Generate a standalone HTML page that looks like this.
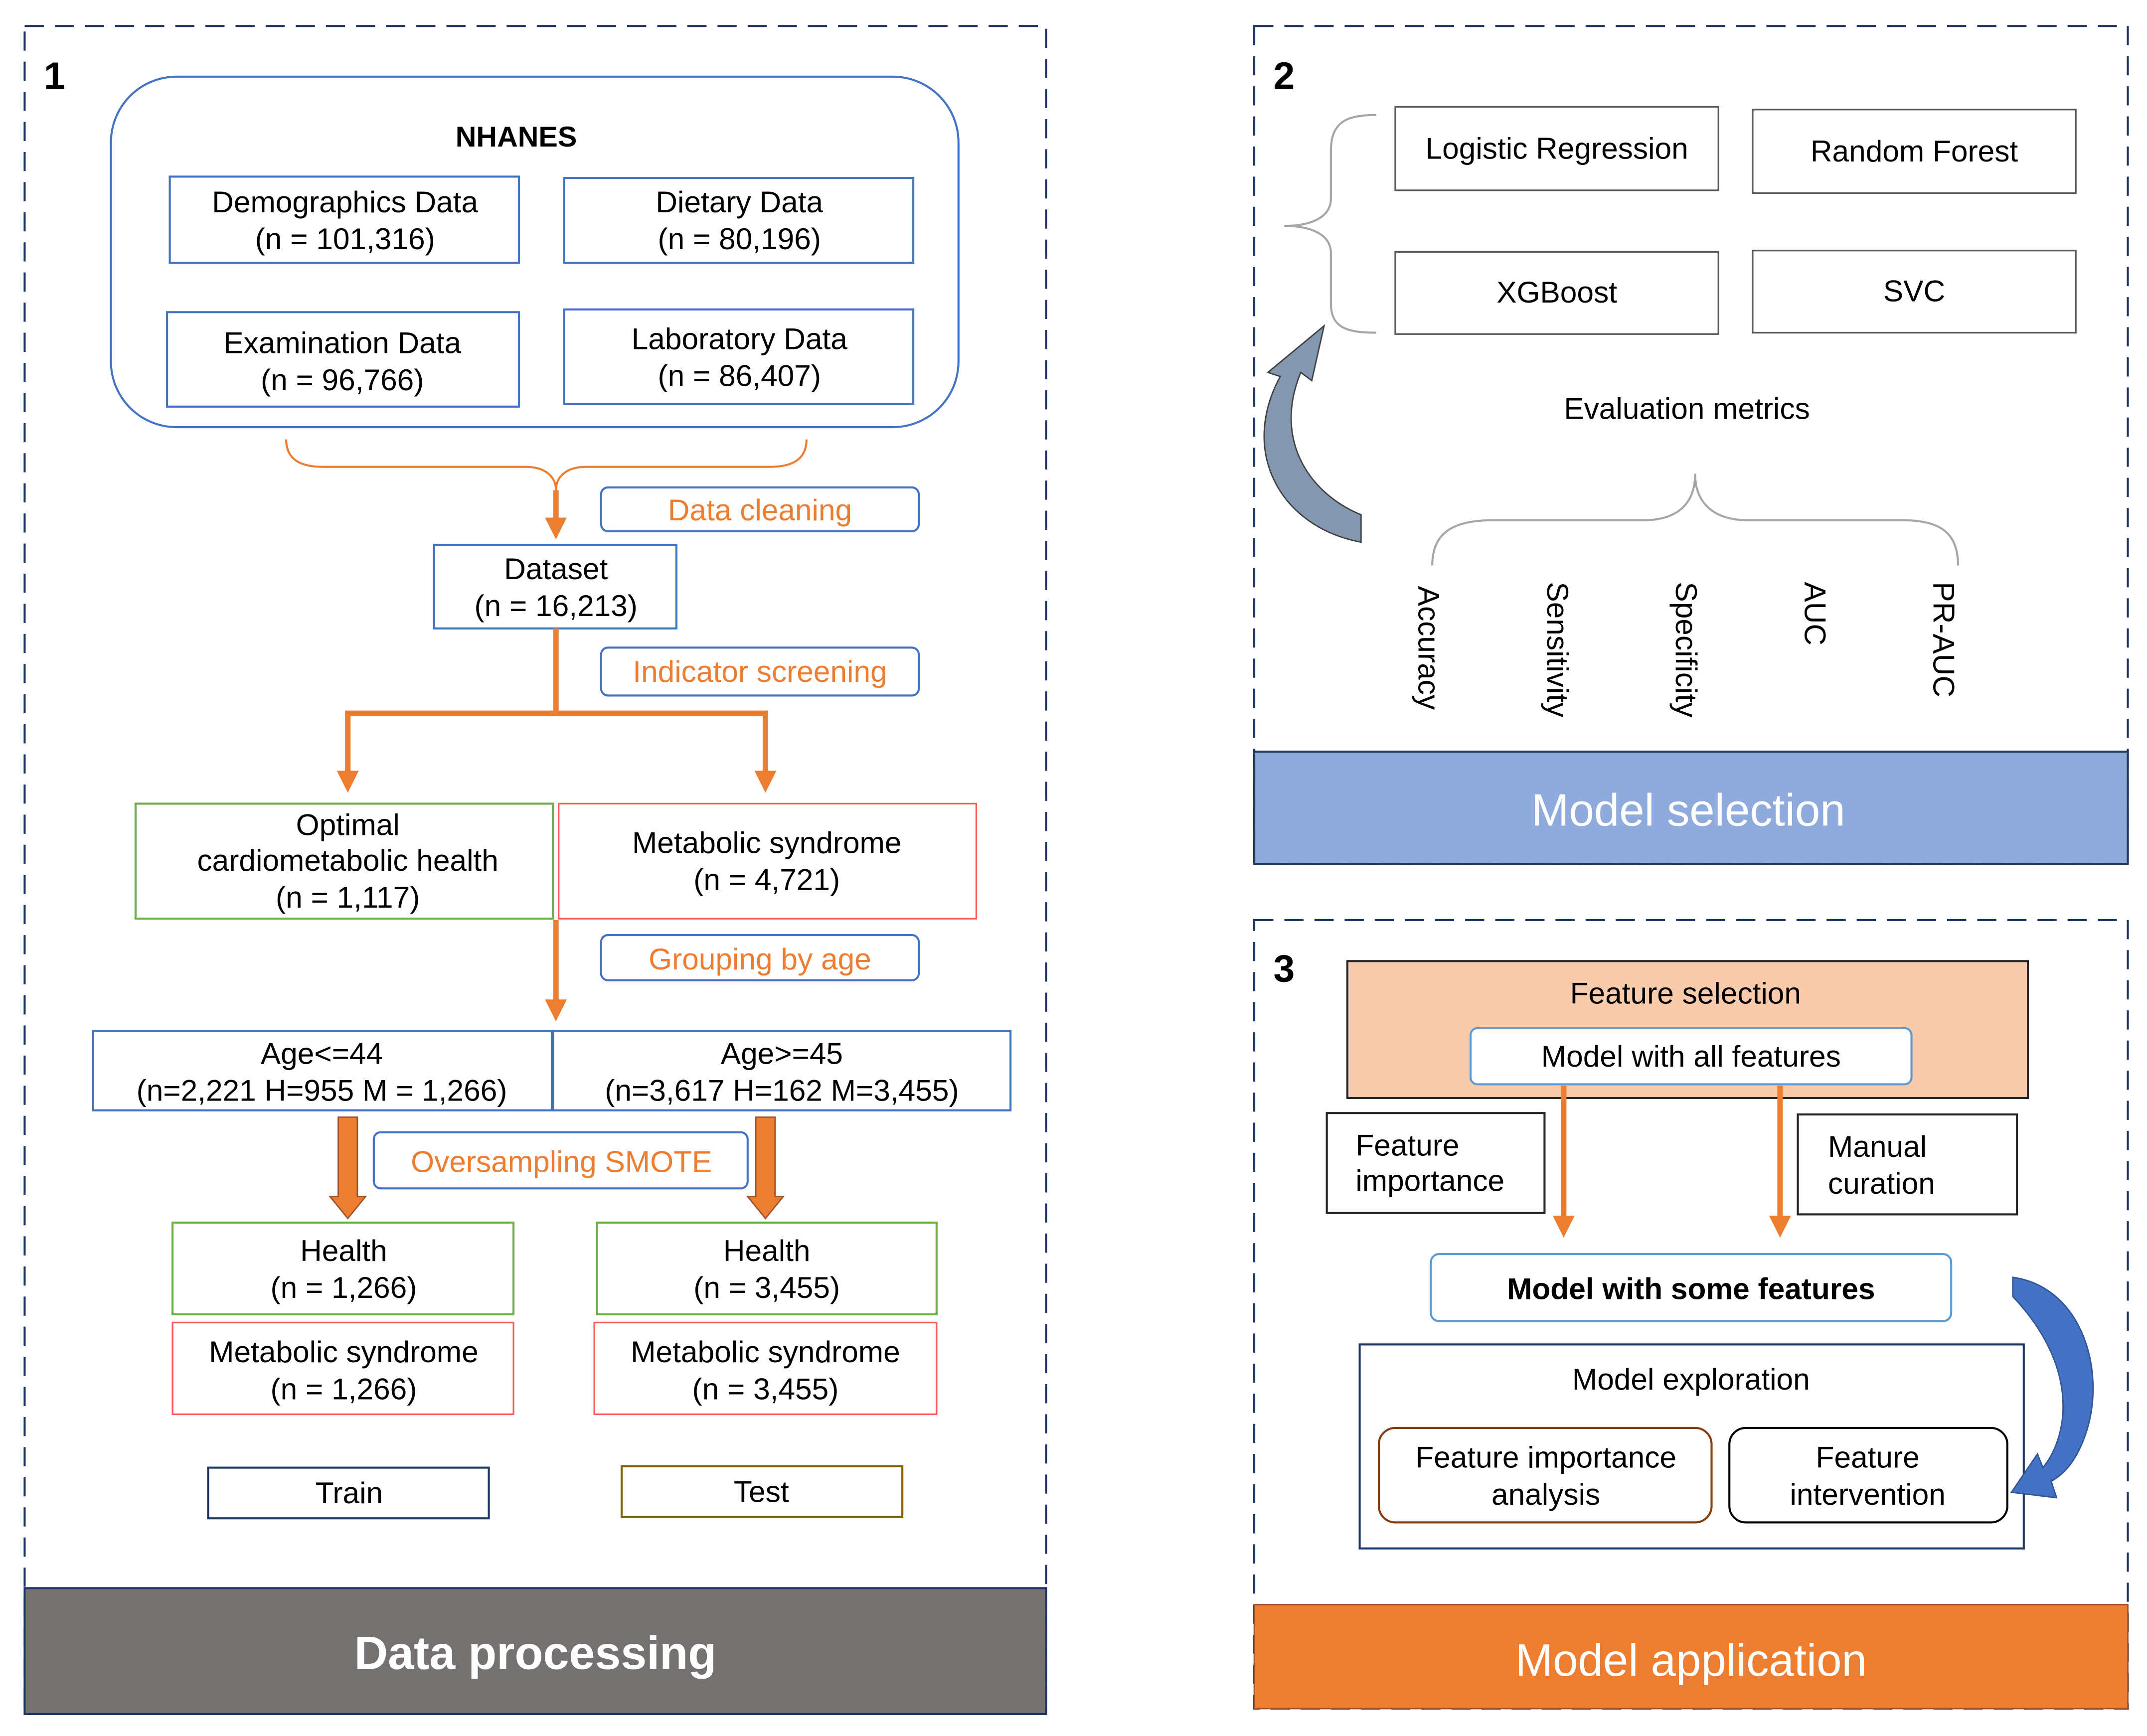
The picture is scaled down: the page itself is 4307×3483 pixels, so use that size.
<!DOCTYPE html>
<html><head><meta charset="utf-8"><style>html,body{margin:0;padding:0;background:#fff}svg{display:block}</style></head>
<body>
<svg width="4307" height="3483" viewBox="0 0 1568 1268" xmlns="http://www.w3.org/2000/svg" font-family="Liberation Sans, Arial, sans-serif">
<defs>
<marker id="oa" markerWidth="4" markerHeight="4" refX="2" refY="2" orient="auto" markerUnits="strokeWidth"><path d="M0,0 L4,2 L0,4 z" fill="#ED7D31"/></marker>
</defs>
<g fill="none" stroke="#1F3864" stroke-width="1.5" stroke-dasharray="14,8">
<rect x="18" y="19" width="746" height="1232"/>
<rect x="916" y="19" width="638" height="612"/>
<rect x="916" y="672" width="638" height="576"/>
</g>
<rect x="18" y="1160" width="746" height="92" fill="#767171" stroke="#1F3864" stroke-width="1.5"/>
<text x="391" y="1219" font-size="34" font-weight="bold" fill="#fff" text-anchor="middle">Data processing</text>
<rect x="916" y="549" width="638" height="82" fill="#8FAADC" stroke="#1F3864" stroke-width="1.5"/>
<text x="1233" y="603" font-size="33" fill="#fff" text-anchor="middle">Model selection</text>
<rect x="916" y="1172" width="638" height="76" fill="#ED7D31" stroke="#A0522D" stroke-width="1"/>
<text x="1235" y="1224" font-size="33" fill="#fff" text-anchor="middle">Model application</text>
<g font-size="28" font-weight="bold" fill="#000"><text x="32" y="65">1</text><text x="930" y="65">2</text><text x="930" y="717">3</text></g>

<g font-size="22" fill="#000" text-anchor="middle">
<rect x="81" y="56" width="619" height="256" rx="48" fill="none" stroke="#4472C4" stroke-width="1.5"/>
<text x="377" y="107" font-weight="bold" font-size="21">NHANES</text>
<g fill="none" stroke="#4472C4" stroke-width="1.5">
<rect x="124" y="129" width="255" height="63"/><rect x="412" y="130" width="255" height="62"/>
<rect x="122" y="228" width="257" height="69"/><rect x="412" y="226" width="255" height="69"/>
<rect x="317" y="398" width="177" height="61"/>
<rect x="439" y="356" width="232" height="32" rx="5"/><rect x="439" y="473" width="232" height="35" rx="5"/>
<rect x="439" y="683" width="232" height="33" rx="5"/><rect x="273" y="827" width="273" height="41" rx="5"/>
<rect x="68" y="753" width="335" height="58"/><rect x="404" y="753" width="334" height="58"/>
</g>
<text x="252" y="155">Demographics Data</text><text x="252" y="182">(n = 101,316)</text>
<text x="540" y="155">Dietary Data</text><text x="540" y="182">(n = 80,196)</text>
<text x="250" y="258">Examination Data</text><text x="250" y="285">(n = 96,766)</text>
<text x="540" y="255">Laboratory Data</text><text x="540" y="282">(n = 86,407)</text>
<path d="M209,321 C209,336 220,341 236,341 L384,341 C398,341 406,348 406,358 C406,348 414,341 428,341 L562,341 C578,341 589,336 589,321" fill="none" stroke="#ED7D31" stroke-width="1.5"/>
<g stroke="#ED7D31" stroke-width="4" fill="none">
<line x1="406" y1="358" x2="406" y2="386" marker-end="url(#oa)"/>
<line x1="406" y1="459" x2="406" y2="521"/>
<polyline points="254,571 254,521 559,521 559,571" marker-end="url(#oa)"/>
<line x1="254" y1="521" x2="254" y2="571" marker-end="url(#oa)"/>
<line x1="406" y1="672" x2="406" y2="738" marker-end="url(#oa)"/>
</g>
<text x="555" y="380" fill="#ED7D31">Data cleaning</text>
<text x="406" y="423">Dataset</text><text x="406" y="450">(n = 16,213)</text>
<text x="555" y="498" fill="#ED7D31">Indicator screening</text>
<rect x="99" y="587" width="305" height="84" fill="none" stroke="#70AD47" stroke-width="1.5"/>
<rect x="408" y="587" width="305" height="84" fill="none" stroke="#FF5B5B" stroke-width="1.2"/>
<text x="254" y="610">Optimal</text><text x="254" y="636">cardiometabolic health</text><text x="254" y="663">(n = 1,117)</text>
<text x="560" y="623">Metabolic syndrome</text><text x="560" y="650">(n = 4,721)</text>
<text x="555" y="708" fill="#ED7D31">Grouping by age</text>
<text x="235" y="777">Age&lt;=44</text><text x="235" y="804">(n=2,221 H=955 M = 1,266)</text>
<text x="571" y="777">Age&gt;=45</text><text x="571" y="804">(n=3,617 H=162 M=3,455)</text>
<g fill="#ED7D31" stroke="#A0522D" stroke-width="1">
<path d="M247,816 L261,816 L261,874 L267,874 L254,890 L241,874 L247,874 z"/>
<path d="M552,816 L566,816 L566,874 L572,874 L559,890 L546,874 L552,874 z"/>
</g>
<text x="410" y="856" fill="#ED7D31">Oversampling SMOTE</text>
<rect x="126" y="893" width="249" height="67" fill="none" stroke="#70AD47" stroke-width="1.5"/>
<rect x="436" y="893" width="248" height="67" fill="none" stroke="#70AD47" stroke-width="1.5"/>
<rect x="126" y="966" width="249" height="67" fill="none" stroke="#FF5B5B" stroke-width="1.2"/>
<rect x="434" y="966" width="250" height="67" fill="none" stroke="#FF5B5B" stroke-width="1.2"/>
<text x="251" y="921">Health</text><text x="251" y="948">(n = 1,266)</text>
<text x="560" y="921">Health</text><text x="560" y="948">(n = 3,455)</text>
<text x="251" y="995">Metabolic syndrome</text><text x="251" y="1022">(n = 1,266)</text>
<text x="559" y="995">Metabolic syndrome</text><text x="559" y="1022">(n = 3,455)</text>
<rect x="152" y="1072" width="205" height="37" fill="none" stroke="#1F3864" stroke-width="1.5"/>
<rect x="454" y="1071" width="205" height="37" fill="none" stroke="#7F6000" stroke-width="1.5"/>
<text x="255" y="1098">Train</text><text x="556" y="1097">Test</text>
</g>

<g font-size="22" fill="#000" text-anchor="middle">
<g fill="none" stroke="#595959" stroke-width="1.2">
<rect x="1019" y="78" width="236" height="61"/><rect x="1280" y="80" width="236" height="61"/>
<rect x="1019" y="184" width="236" height="60"/><rect x="1280" y="183" width="236" height="60"/>
</g>
<path d="M1005,84 C985,84 972,88 972,110 L972,145 C972,160 955,165 938,165 C955,165 972,170 972,185 L972,222 C972,240 985,243 1005,243" fill="none" stroke="#A6A6A6" stroke-width="1.5"/>
<text x="1137" y="116">Logistic Regression</text><text x="1398" y="118">Random Forest</text>
<text x="1137" y="221">XGBoost</text><text x="1398" y="220">SVC</text>
<text x="1232" y="306">Evaluation metrics</text>
<path d="M1046,413 C1046,390 1060,380 1090,380 L1200,380 C1225,380 1238,368 1238,346 C1238,368 1252,380 1277,380 L1390,380 C1418,380 1430,390 1430,413" fill="none" stroke="#A6A6A6" stroke-width="1.5"/>
<g text-anchor="start">
<text transform="translate(1036,428) rotate(90)">Accuracy</text>
<text transform="translate(1130,425) rotate(90)">Sensitivity</text>
<text transform="translate(1224,425) rotate(90)">Specificity</text>
<text transform="translate(1318,425) rotate(90)">AUC</text>
<text transform="translate(1412,425) rotate(90)">PR-AUC</text>
</g>
<path d="M994,396 C935,385 905,330 935,275 L926,272 L967,238 L958,278 L950,272 C930,320 955,360 994,376 z" fill="#8497B0" stroke="#404040" stroke-width="1"/>
</g>

<g font-size="22" fill="#000" text-anchor="middle">
<rect x="984" y="702" width="497" height="100" fill="#F8CBAD" stroke="#262626" stroke-width="1.5"/>
<text x="1231" y="733">Feature selection</text>
<rect x="1074" y="751" width="322" height="41" rx="5" fill="#fff" stroke="#5B9BD5" stroke-width="1.5"/>
<text x="1235" y="779">Model with all features</text>
<rect x="969" y="813" width="159" height="73" fill="none" stroke="#262626" stroke-width="1.5"/>
<rect x="1313" y="814" width="160" height="73" fill="none" stroke="#262626" stroke-width="1.5"/>
<g text-anchor="start"><text x="990" y="844">Feature</text><text x="990" y="870">importance</text>
<text x="1335" y="845">Manual</text><text x="1335" y="872">curation</text></g>
<g stroke="#ED7D31" stroke-width="4" fill="none">
<line x1="1142" y1="793" x2="1142" y2="896" marker-end="url(#oa)"/>
<line x1="1300" y1="793" x2="1300" y2="896" marker-end="url(#oa)"/>
</g>
<rect x="1045" y="916" width="380" height="49" rx="6" fill="none" stroke="#5B9BD5" stroke-width="1.5"/>
<text x="1235" y="949" font-weight="bold">Model with some features</text>
<rect x="993" y="982" width="485" height="149" fill="none" stroke="#1F3864" stroke-width="1.5"/>
<text x="1235" y="1015">Model exploration</text>
<rect x="1007" y="1043" width="243" height="69" rx="12" fill="none" stroke="#843C0C" stroke-width="1.5"/>
<rect x="1263" y="1043" width="203" height="69" rx="12" fill="none" stroke="#000" stroke-width="1.5"/>
<text x="1129" y="1072">Feature importance</text><text x="1129" y="1099">analysis</text>
<text x="1364" y="1072">Feature</text><text x="1364" y="1099">intervention</text>
<path d="M1470,933 C1520,940 1538,1000 1524,1045 C1516,1070 1505,1078 1498,1082 L1502,1094 L1469,1090 L1488,1062 L1492,1072 C1510,1050 1520,1000 1470,947 z" fill="#4472C4" stroke="#2F5597" stroke-width="1"/>
</g>
</svg>
</body></html>
